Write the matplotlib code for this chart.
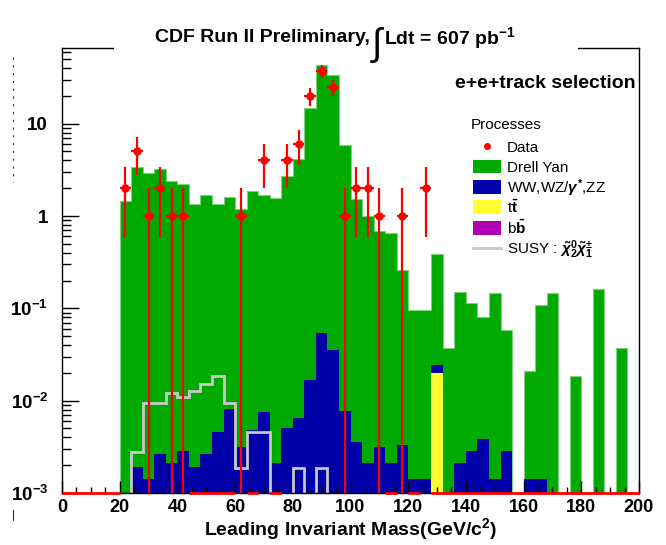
import numpy as np
import matplotlib
matplotlib.use('Agg')
import matplotlib.pyplot as plt
from matplotlib.patches import Rectangle
from matplotlib.lines import Line2D
from matplotlib.ticker import MultipleLocator, LogLocator, FuncFormatter, NullFormatter

plt.rcParams['font.family'] = ['Liberation Sans', 'DejaVu Sans']
plt.rcParams['font.weight'] = 'bold'
plt.rcParams['mathtext.fontset'] = 'custom'
plt.rcParams['mathtext.rm'] = 'Liberation Sans'
plt.rcParams['mathtext.it'] = 'Liberation Sans:italic'
plt.rcParams['mathtext.bf'] = 'Liberation Sans:bold'

# 4 GeV bins from 0 to 200
bin_edges = np.arange(0, 204, 4)

n_data = [0, 0, 0, 0, 0, 2, 5, 1, 2, 1,
          1, 0, 0, 0, 0, 1, 0, 4, 0, 4,
          6, 20, 37, 25, 1, 2, 2, 1, 0, 1,
          0, 2, 0, 0, 0, 0, 0, 0, 0, 0,
          0, 0, 0, 0, 0, 0, 0, 0, 0, 0]

drell_yan = [0, 0, 0, 0, 0, 1.45, 3.42, 2.9, 3.23, 2.39,
             2.22, 1.36, 1.68, 1.36, 1.58, 1.2, 1.88, 1.69, 1.58, 2.71,
             4.18, 14.8, 43.6, 33.4, 5.88, 1.53, 1.0, 0.688, 0.65, 0.26,
             0.0935, 0.0935, 0.368, 0.0368, 0.149, 0.111, 0.076, 0.145, 0.0558, 0,
             0.0193, 0.1086, 0.145, 0, 0.0186, 0, 0.16, 0, 0.0368, 0]

dibosons = [0, 0, 0, 0, 0, 0, 0.00192, 0.00142, 0.00262, 0.00213,
            0.00284, 0.00192, 0.00262, 0.0046, 0.0081, 0.00312, 0.0048, 0.00746, 0.00213, 0.005,
            0.00643, 0.0167, 0.0536, 0.0353, 0.0077, 0.00359, 0.00213, 0.00312, 0.00213, 0.0033,
            0.00141, 0.00141, 0.0045, 0, 0.00213, 0.00286, 0.00384, 0.00141, 0.00286, 0,
            0.00141, 0.00141, 0, 0, 0, 0, 0, 0, 0, 0]

ttbar = [0] * 32 + [0.0198] + [0] * 17

susy = [0, 0, 0, 0, 0, 0, 0.0028, 0.00935, 0.00935, 0.012,
        0.011, 0.0127, 0.015, 0.0185, 0.00935, 0.00185, 0.0046, 0.0046, 0, 0,
        0.00185, 0, 0.00185, 0, 0, 0, 0, 0, 0, 0,
        0, 0, 0, 0, 0, 0, 0, 0, 0, 0,
        0, 0, 0, 0, 0, 0, 0, 0, 0, 0]

legend_labels = ['Data', 'Drell Yan', r'WW,WZ/$\gamma^{*}$,ZZ', r't$\bar{\mathrm{t}}$',
                 r'b$\bar{\mathrm{b}}$', r'SUSY : $\tilde{\chi}^{0}_{2}\tilde{\chi}^{\pm}_{1}$']

GREEN = '#00aa00'
BLUE = '#0000a8'
YELLOW = '#ffff33'
MAGENTA = '#b000b0'
GREY = '#c8c8c8'

W, H = 666, 545
fig = plt.figure(figsize=(W / 100, H / 100), dpi=100)
ax = fig.add_axes([62 / W, 52 / H, (639 - 62) / W, (493 - 48) / H])

floor = 1e-5
s_tt = np.array(ttbar)
s_ww = s_tt + np.array(dibosons)
s_dy = s_ww + np.array(drell_yan)

ax.stairs(np.maximum(s_dy, floor), bin_edges, baseline=floor, fill=True, color=GREEN, zorder=1)
ax.stairs(np.maximum(s_dy, floor), bin_edges, baseline=floor, fill=False, color='#80d080', lw=0.8, zorder=1.1)
ax.stairs(np.maximum(s_ww, floor), bin_edges, baseline=floor, fill=True, color=BLUE, zorder=1.2)
ax.stairs(np.maximum(s_tt, floor), bin_edges, baseline=floor, fill=True, color=YELLOW, zorder=1.3)
ax.stairs(np.maximum(np.array(susy), floor), bin_edges, baseline=None, color=GREY, lw=2, zorder=2)

# data
n = np.array(n_data, dtype=float)
centers = 0.5 * (bin_edges[:-1] + bin_edges[1:])
has = n > 0
err = np.sqrt(n[has])
lo = n[has] - np.maximum(n[has] - err, floor)
ax.errorbar(centers[has], n[has], xerr=2, yerr=[lo, err], fmt='o', color='red',
            ms=5, elinewidth=1.6, capsize=0, zorder=5)
ax.hlines(np.full((~has).sum(), 1e-3), bin_edges[:-1][~has], bin_edges[1:][~has],
          color='red', lw=2, clip_on=False, zorder=6)

ax.set_yscale('log')
ax.set_xlim(0, 200)
ax.set_ylim(1e-3, 66)

ax.xaxis.set_major_locator(MultipleLocator(20))
ax.xaxis.set_minor_locator(MultipleLocator(5))
ax.yaxis.set_major_locator(LogLocator(base=10, numticks=10))
ax.yaxis.set_minor_locator(LogLocator(base=10, subs=np.arange(2, 10), numticks=20))
ax.yaxis.set_minor_formatter(NullFormatter())


def ylab(v, pos):
    e = int(round(np.log10(v)))
    if e == 0:
        return '1'
    if e == 1:
        return '10'
    return r'$\mathbf{10^{%d}}$' % e


ax.yaxis.set_major_formatter(FuncFormatter(ylab))
ax.tick_params(axis='x', which='major', direction='in', length=9, width=1, labelsize=13, pad=4)
ax.tick_params(axis='x', which='minor', direction='in', length=4.5, width=1)
ax.tick_params(axis='y', which='major', direction='in', length=12.5, width=1, labelsize=13.5, pad=10)
ax.tick_params(axis='y', which='minor', direction='in', length=6.3, width=1)
for sp in ax.spines.values():
    sp.set_linewidth(1)

ax.set_xlabel(r'Leading Invariant Mass(GeV/c$^{\mathbf{2}}$)', fontsize=14, fontweight='bold', labelpad=0.5)

# title box over the frame
fig.add_artist(Rectangle((114 / W, 1 - 54 / H), (578 - 114) / W, 26 / H,
                         transform=fig.transFigure, fc='white', ec='none', zorder=3))
fig.text(370 / W, 1 - 38 / H, 'CDF Run II Preliminary,', ha='right', va='center',
         fontsize=14, fontweight='bold', zorder=4)
fig.text(377 / W, 1 - 45 / H, '\u222b', ha='center', va='center',
         fontsize=27, fontweight='normal', zorder=4)
fig.text(384 / W, 1 - 38 / H, r'Ldt = 607 pb$^{\mathbf{-1}}$', ha='left', va='center',
         fontsize=14, fontweight='bold', zorder=4)

fig.text(636 / W, 1 - 83 / H, 'e+e+track selection', ha='right', va='center',
         fontsize=14, fontweight='bold')

# legend, laid out row by row
fig.text(471 / W, 1 - 125 / H, 'Processes', ha='left', va='center', fontsize=11, fontweight='normal')
row_y = [146, 166, 187, 207, 228, 248]
fills = [None, GREEN, BLUE, YELLOW, MAGENTA, None]
for i, (lab, fc) in enumerate(zip(legend_labels, fills)):
    yc = 1 - row_y[i] / H
    if i == 0:
        fig.add_artist(Line2D([487 / W], [yc], transform=fig.transFigure, marker='o',
                              color='red', ms=4, ls='none'))
    elif fc is None:
        fig.add_artist(Line2D([473 / W, 501 / W], [yc, yc], transform=fig.transFigure,
                              color=GREY, lw=2))
    else:
        fig.add_artist(Rectangle((473 / W, yc - 6.5 / H), 28 / W, 13 / H,
                                 transform=fig.transFigure, fc=fc, ec='none'))
    fig.text(507 / W, yc - 5.5 / H, lab, ha='left', va='baseline', fontsize=11, fontweight='normal')

# clipped leftover of a label on the left edge
fig.add_artist(Line2D([13 / W, 13 / W], [1 - 57 / H, 1 - 182 / H], transform=fig.transFigure,
                      color='#333333', lw=0.8, ls=(0, (2, 5))))
fig.add_artist(Line2D([13 / W, 13 / W], [1 - 510 / H, 1 - 520 / H], transform=fig.transFigure,
                      color='#333333', lw=0.8))

fig.savefig('out.png', dpi=100)
